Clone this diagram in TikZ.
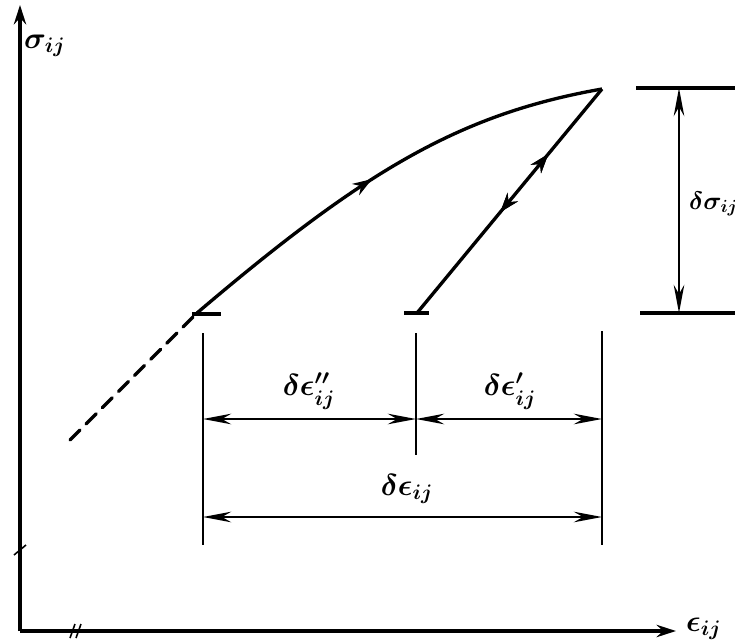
\documentclass[tikz,border=0pt]{standalone}
\usepackage{tikz}
\usetikzlibrary{arrows.meta,decorations.markings}

\begin{document}
\begin{tikzpicture}[
  x=0.02cm, y=-0.02cm,
  font=\LARGE\boldmath,
  axisline/.style={line width=1.8pt, -{Stealth[length=11pt,width=7pt]}},
  loadpath/.style={line width=1.9pt},
  extline/.style={line width=1.1pt},
  dimline/.style={line width=1.4pt, {Stealth[length=16pt,width=6pt]}-{Stealth[length=16pt,width=6pt]}},
  fwdarrow/.style={postaction={decorate}, decoration={markings,
    mark=at position #1 with {\arrow{Stealth[length=11pt,width=7.5pt]}}}},
  backarrow/.style={postaction={decorate}, decoration={markings,
    mark=at position #1 with {\arrowreversed{Stealth[length=11pt,width=7.5pt]}}}}
]
  \useasboundingbox (0,0) rectangle (735,643);

  % axes
  \coordinate (origin) at (20,631);
  \coordinate (ytop) at (20,5);
  \coordinate (xend) at (676,631);
  \draw[axisline] (origin) -- (ytop);
  \draw[axisline] (origin) -- (xend);
  \node[anchor=west, inner sep=1pt] (sigmalab) at (22,46) {$\sigma_{ij}$};
  \node[anchor=west, inner sep=1pt] (epslab) at (684,629) {$\epsilon_{ij}$};
  % axis breaks
  \draw[line width=0.9pt] (14,555) -- (26,545);
  \draw[line width=0.9pt] (70,638) -- (75,624);
  \draw[line width=0.9pt] (76,638) -- (81,624);

  % loading curve and unloading line
  \coordinate (tail) at (70,440);
  \coordinate (start) at (197,313);
  \coordinate (peak) at (602,89);
  \coordinate (unload) at (417,313);
  \draw[loadpath, line cap=round, dash pattern=on 8pt off 5pt] (tail) -- (start);
  \draw[loadpath, fwdarrow=0.47] (start) .. controls (365,170) and (460,114) .. (peak);
  \draw[loadpath, fwdarrow=0.71, backarrow=0.45] (unload) -- (peak);

  % short ticks at the ends
  \draw[loadpath] (192,314) -- (221,314);
  \draw[loadpath] (404,313) -- (429,313);

  % extension lines
  \coordinate (e1top) at (203,333);
  \coordinate (e1bot) at (203,545);
  \coordinate (e2top) at (416,333);
  \coordinate (e2bot) at (416,455);
  \coordinate (e3top) at (602,331);
  \coordinate (e3bot) at (602,545);
  \draw[extline] (e1top) -- (e1bot);
  \draw[extline] (e2top) -- (e2bot);
  \draw[extline] (e3top) -- (e3bot);

  % strain increments
  \coordinate (d1l) at (203,419);
  \coordinate (d1m) at (416,419);
  \coordinate (d1r) at (602,419);
  \draw[dimline] (d1l) -- (d1m);
  \draw[dimline] (d1m) -- (d1r);
  \node (plasticlab) at (309,391) {$\delta\epsilon''_{ij}$};
  \node (elasticlab) at (510,391) {$\delta\epsilon'_{ij}$};
  \coordinate (d2l) at (203,517);
  \coordinate (d2r) at (602,517);
  \draw[dimline] (d2l) -- (d2r);
  \node (totallab) at (407,489) {$\delta\epsilon_{ij}$};

  % stress increment
  \coordinate (s1l) at (636,88);
  \coordinate (s1r) at (735,88);
  \coordinate (s2l) at (640,313);
  \coordinate (s2r) at (735,313);
  \draw[loadpath] (s1l) -- (s1r);
  \draw[loadpath] (s2l) -- (s2r);
  \coordinate (sdtop) at (679,88);
  \coordinate (sdbot) at (679,313);
  \draw[dimline] (sdtop) -- (sdbot);
  \node[anchor=west, inner sep=1pt, font=\Large\boldmath] (stresslab) at (687,204) {$\delta\sigma_{ij}$};
\end{tikzpicture}
\end{document}
